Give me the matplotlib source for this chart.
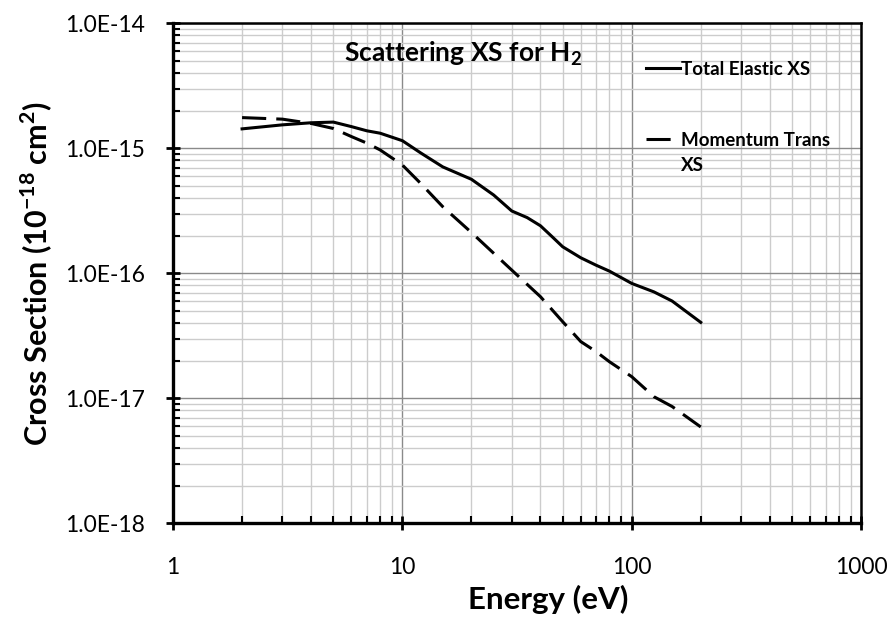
import numpy as np
import matplotlib
matplotlib.use("Agg")
import matplotlib.pyplot as plt
from matplotlib.ticker import FixedLocator, LogLocator, FuncFormatter, NullFormatter

# total elastic cross section of H2 (cm^2) vs energy (eV)
energy_elastic = [2, 3, 4, 5, 6, 7, 8, 10, 12, 15, 20, 25, 30, 35, 40, 45,
                  50, 60, 70, 80, 100, 125, 150, 200]
total_elastic = [1.43e-15, 1.54e-15, 1.60e-15, 1.62e-15, 1.49e-15, 1.38e-15,
                 1.32e-15, 1.15e-15, 9.2e-16, 7.1e-16, 5.65e-16, 4.23e-16,
                 3.15e-16, 2.79e-16, 2.4e-16, 1.96e-16, 1.63e-16, 1.33e-16,
                 1.16e-16, 1.04e-16, 8.3e-17, 7.1e-17, 6.0e-17, 4.05e-17]

# momentum transfer cross section
energy_momentum = [2, 3, 4, 5, 6, 7, 8, 10, 12, 15, 20, 30, 40, 50, 60, 70,
                   80, 100, 125, 150, 200]
momentum_trans = [1.76e-15, 1.71e-15, 1.58e-15, 1.44e-15, 1.24e-15, 1.10e-15,
                  9.7e-16, 7.35e-16, 5.25e-16, 3.41e-16, 2.12e-16, 1.06e-16,
                  6.5e-17, 4.1e-17, 2.84e-17, 2.36e-17, 1.96e-17, 1.49e-17,
                  1.03e-17, 8.6e-18, 5.9e-18]

x_ticks = [1, 10, 100, 1000]
y_ticks = [1e-18, 1e-17, 1e-16, 1e-15, 1e-14]
y_tick_labels = ["1.0E-18", "1.0E-17", "1.0E-16", "1.0E-15", "1.0E-14"]

plt.rcParams["font.family"] = ["Lato", "DejaVu Sans"]
plt.rcParams["mathtext.fontset"] = "custom"
plt.rcParams["mathtext.bf"] = "Lato:bold"
plt.rcParams["mathtext.rm"] = "Lato"

fig = plt.figure(figsize=(8.91, 6.29), dpi=100)
ax = fig.add_axes([0.1942, 0.168, 0.7722, 0.795])

ax.plot(energy_elastic, total_elastic, color="black", lw=2.2,
        label="Total Elastic XS")
ax.plot(energy_momentum, momentum_trans, color="black", lw=2.2,
        dashes=(7.9, 3.3), label="Momentum Trans")

ax.set_xscale("log")
ax.set_yscale("log")
ax.set_xlim(1, 1000)
ax.set_ylim(1e-18, 1e-14)

ax.xaxis.set_major_locator(FixedLocator(x_ticks))
ax.yaxis.set_major_locator(FixedLocator(y_ticks))
ax.xaxis.set_minor_locator(LogLocator(base=10, subs=np.arange(2, 10)))
ax.yaxis.set_minor_locator(LogLocator(base=10, subs=np.arange(2, 10)))
ax.xaxis.set_major_formatter(FuncFormatter(lambda v, p: f"{v:g}"))
ax.set_yticklabels(y_tick_labels)
ax.xaxis.set_minor_formatter(NullFormatter())
ax.yaxis.set_minor_formatter(NullFormatter())

ax.grid(True, which="major", color="#8a8a8a", lw=1.0)
ax.grid(True, which="minor", color="#cccccc", lw=1.0)
ax.set_axisbelow(True)

ax.tick_params(which="major", direction="inout", length=10, width=2,
               labelsize=16.5)
ax.tick_params(axis="y", which="major", pad=15)
ax.tick_params(axis="x", which="major", pad=19)
ax.tick_params(which="minor", direction="in", length=5, width=1.5)

for side in ["left", "bottom"]:
    ax.spines[side].set_linewidth(2.4)
for side in ["top", "right"]:
    ax.spines[side].set_linewidth(1.8)

ax.set_xlabel("Energy (eV)", fontsize=22.5, fontweight="bold", labelpad=5,
              x=0.545)
ax.set_ylabel(r"Cross Section (10$^{\mathbf{-18}}$ cm$^{\mathbf{2}}$)",
              fontsize=22, fontweight="bold", labelpad=8)

ax.text(0.249, 0.94, r"Scattering XS for H$_{\mathbf{2}}$", transform=ax.transAxes,
        ha="left", va="center", fontsize=19, fontweight="bold")

leg = ax.legend(loc="upper left", bbox_to_anchor=(0.687, 0.925), frameon=False,
                prop={"weight": "bold", "size": 13.5}, handlelength=1.81,
                handletextpad=0.05, labelspacing=2.87, borderpad=0,
                borderaxespad=0)

# second line of the momentum transfer label, drawn after the legend
ax.annotate("XS", xy=(0, 0.5), xycoords=leg.get_texts()[1],
            xytext=(0, -18), textcoords="offset points",
            ha="left", va="center", fontsize=13.5, fontweight="bold",
            zorder=6)

fig.savefig("out.png", dpi=100)
